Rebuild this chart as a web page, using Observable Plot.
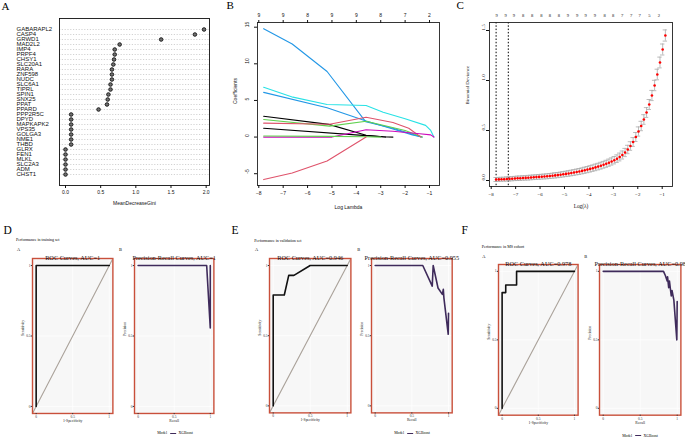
<!DOCTYPE html>
<html><head><meta charset="utf-8">
<script src="https://cdn.jsdelivr.net/npm/d3@7"></script>
<script src="https://cdn.jsdelivr.net/npm/@observablehq/plot@0.6"></script>
<style>
body{margin:0;background:#fff;}
#root{position:relative;width:685px;height:440px;overflow:hidden;background:#fff;}
.p{position:absolute;}
.lbl{position:absolute;white-space:nowrap;line-height:1;color:#000;font-family:"Liberation Serif","Times New Roman",serif;}
</style></head><body><div id="root"></div>
<script>
// ---------- Panel A data ----------
const genes = ["GABARAPL2","CASP4","GRWD1","MAD2L2","IMP4","PRPF4","CHSY1","SLC20A1","RARA","ZNF598","NUDC","SLC6A1","TIPRL","SPIN1","SNX25","PPAT","PPARD","PPP2R5C","DPYD","MAPKAPK2","VPS35","GOLGA3","NME1","THBD","GLRX","FEN1","MLKL","SLC2A3","ADM","CHST1"];
const gini = [1.97,1.84,1.36,0.77,0.70,0.70,0.69,0.68,0.66,0.66,0.66,0.64,0.64,0.61,0.60,0.59,0.47,0.08,0.08,0.08,0.08,0.08,0.08,0.08,0.00,0.00,0.00,0.00,0.00,0.00];
const giniTicks = [0,0.5,1,1.5,2];

// ---------- Panel B data ----------
const bLambdaTicks = [-8,-7,-6,-5,-4,-3,-2,-1];
const bDfTop = [9,9,8,9,9,8,7,2];
const bCoefTicks = [-5,0,5,10,15];
const bPaths = [
  {color:"#2297E6", pts:[[-7.8,14.8],[-6.63,12.7],[-5.2,8.95],[-3.62,2.1],[-2.5,1.2],[-1.8,0.5],[-1.35,0]]},
  {color:"#28E2E5", pts:[[-7.8,6.8],[-6.6,5.45],[-5.2,4.45],[-3.6,4.3],[-2.9,3.4],[-2.0,2.5],[-1.16,1.6],[-0.95,0.9],[-0.82,0]]},
  {color:"#2297E6", pts:[[-7.8,6.1],[-5.2,4.0],[-3.6,2.2],[-2.5,1.1],[-1.7,0.3],[-1.3,0]]},
  {color:"#000000", pts:[[-7.8,2.85],[-5.13,1.73],[-3.6,0.25],[-2.9,0.05],[-2.5,0]]},
  {color:"#61D04F", pts:[[-7.8,2.4],[-5.1,1.5],[-3.6,2.15],[-2.0,0.9],[-1.3,0]]},
  {color:"#DF536B", pts:[[-7.8,1.9],[-5.1,1.75],[-3.6,2.7],[-2.5,2.0],[-1.85,1.2],[-1.35,0]]},
  {color:"#000000", pts:[[-7.8,1.2],[-3.6,0.2],[-2.8,0]]},
  {color:"#CD0BBC", pts:[[-7.8,0],[-5.0,0],[-3.6,1.0],[-2.5,0.8],[-1.4,0.45],[-0.95,0.3],[-0.82,0]]},
  {color:"#61D04F", pts:[[-7.8,0.15],[-5.0,0.1],[-3.6,0.05],[-3.0,0]]},
  {color:"#DF536B", pts:[[-7.8,-5.8],[-6.63,-4.9],[-5.2,-3.27],[-3.6,0]]}
];

// ---------- Panel C data ----------
const cvLogLambda = [-7.80,-7.69,-7.58,-7.47,-7.36,-7.25,-7.14,-7.03,-6.92,-6.81,
 -6.70,-6.59,-6.48,-6.37,-6.26,-6.15,-6.04,-5.93,-5.82,-5.71,
 -5.60,-5.49,-5.38,-5.27,-5.16,-5.05,-4.94,-4.83,-4.72,-4.61,
 -4.50,-4.39,-4.28,-4.17,-4.06,-3.95,-3.84,-3.73,-3.62,-3.51,
 -3.40,-3.29,-3.18,-3.07,-2.96,-2.85,-2.74,-2.63,-2.52,-2.41,
 -2.30,-2.19,-2.08,-1.97,-1.86,-1.75,-1.64,-1.53,-1.42,-1.31,
 -1.20,-1.09,-0.98,-0.87];
const cvDeviance = [0.010,0.011,0.012,0.013,0.015,0.016,0.018,0.020,0.022,0.023,
 0.025,0.026,0.028,0.030,0.032,0.034,0.036,0.038,0.040,0.042,
 0.045,0.048,0.051,0.054,0.058,0.062,0.066,0.070,0.075,0.080,
 0.085,0.090,0.096,0.102,0.109,0.116,0.123,0.131,0.139,0.148,
 0.157,0.167,0.178,0.190,0.203,0.218,0.235,0.255,0.280,0.310,
 0.345,0.385,0.435,0.490,0.545,0.610,0.680,0.760,0.850,0.950,
 1.060,1.180,1.310,1.450];
const cvSE = [0.020,0.020,0.020,0.020,0.021,0.021,0.021,0.021,0.022,0.022,
 0.022,0.022,0.023,0.023,0.023,0.023,0.024,0.024,0.024,0.025,
 0.025,0.025,0.026,0.026,0.026,0.027,0.027,0.028,0.028,0.029,
 0.029,0.030,0.030,0.031,0.031,0.032,0.032,0.033,0.033,0.034,
 0.034,0.035,0.036,0.036,0.037,0.038,0.039,0.040,0.041,0.042,
 0.043,0.044,0.045,0.046,0.047,0.048,0.049,0.050,0.051,0.052,
 0.053,0.054,0.055,0.056];
const cvTopX = [-7.78,-7.41,-7.07,-6.69,-6.32,-5.95,-5.60,-5.23,-4.86,-4.48,-4.13,-3.76,-3.36,-3.01,-2.64,-2.27,-1.92,-1.52,-1.14];
const cvTopDf = [9,9,9,8,8,8,8,8,9,9,9,9,8,8,7,7,7,5,2];
const cvLambdaLines = [-7.8,-7.3];
const cvXTicks = [-8,-7,-6,-5,-4,-3,-2,-1];
const cvYTicks = [0,0.5,1,1.5];

// ---------- Bottom row data ----------
const perfTicks = [0,0.5,1];
const refLine = [-0.05,1.05];
const rocTrain = [[0,0],[0,1],[1,1]];
const prTrain = [[0,1],[0.95,1],[1.0,0.557],[1.0,1.0]];
const rocValid = [[0,0],[0,0.79],[0.15,0.79],[0.21,0.93],[0.28,0.93],[0.5,1],[1,1]];
const prValid = [[0,1],[0.649,1],[0.778,0.853],[0.791,1.0],[0.857,0.84],[0.916,0.794],[0.929,0.83],[0.937,0.77],[0.996,0.51],[1.0,0.66]];
const rocMS = [[0,0],[0,0.845],[0.05,0.845],[0.05,0.9],[0.2,0.9],[0.2,1],[1,1]];
const prMS = [[0,1],[0.815,1],[0.84,0.97],[0.865,0.93],[0.87,0.96],[0.885,0.88],[0.895,0.93],[0.92,0.82],[0.93,0.86],[0.955,0.79],[0.995,0.5],[1.0,0.78]];

// ---------- helpers ----------
const root = document.getElementById("root");
const SERIF = "'Liberation Serif','Times New Roman',serif";
const SANS = "'Liberation Sans',Arial,sans-serif";
function place(svg, left, top){
  const d = document.createElement("div");
  d.className = "p"; d.style.left = left+"px"; d.style.top = top+"px";
  d.appendChild(svg); root.appendChild(d);
}
function label(text, left, cy, size, opts={}){
  const d = document.createElement("div");
  d.className = "lbl";
  d.style.left = left+"px"; d.style.top = (cy - size/2)+"px"; d.style.fontSize = size+"px";
  if (opts.center) d.style.transform = "translateX(-50%)";
  if (opts.family) d.style.fontFamily = opts.family;
  d.innerHTML = text; root.appendChild(d);
}

// ---------- Panel A ----------
const giniData = genes.map((g,i)=>({gene:g, value:gini[i]}));
place(Plot.plot({
  width:230, height:215, marginLeft:59, marginRight:21, marginTop:18, marginBottom:30,
  style:{fontFamily:SANS, fontSize:"5px", background:"transparent", overflow:"visible", color:"#111"},
  x:{domain:[-0.0855,2.0475], label:null},
  y:{type:"point", domain:genes, padding:1.26, label:null},
  marks:[
    Plot.ruleY(genes, {y:d=>d, stroke:"#b5b5b5", strokeWidth:0.6, strokeDasharray:"1.2,1.6"}),
    Plot.frame({stroke:"#111", strokeWidth:0.9}),
    Plot.dot(giniData, {x:"value", y:"gene", r:1.8, fill:"#707070", stroke:"#111", strokeWidth:0.9}),
    Plot.axisX({ticks:giniTicks, tickFormat:d3.format(".1f"), tickSize:3, tickPadding:2, label:null, fontSize:5}),
    Plot.axisY({tickSize:0, textAnchor:"start", dx:-34, label:null, fontSize:6}),
    Plot.text(["MeanDecreaseGini"], {text:d=>d, frameAnchor:"bottom", dy:19, fontSize:5})
  ]
}), 0, 0);

// ---------- Panel B ----------
const bMarks = bPaths.map(p => Plot.line(p.pts, {x:d=>d[0], y:d=>d[1], stroke:p.color, strokeWidth:1.1}));
place(Plot.plot({
  width:230, height:215, marginLeft:32, marginRight:16, marginTop:22, marginBottom:30,
  style:{fontFamily:SANS, fontSize:"5px", background:"transparent", overflow:"visible", color:"#111"},
  x:{domain:[-8.053,-0.59], label:null},
  y:{domain:[-6.61,15.64], label:null},
  marks:[
    ...bMarks,
    Plot.frame({stroke:"#222", strokeWidth:0.9}),
    Plot.axisX({ticks:bLambdaTicks, tickSize:3, tickPadding:2.5, label:null, fontSize:5}),
    Plot.axisX({anchor:"top", ticks:bLambdaTicks, tickFormat:(d,i)=>String(bDfTop[i]), tickSize:3, tickPadding:3, label:null, fontSize:5}),
    Plot.axisY({ticks:bCoefTicks, tickSize:3, tickFormat:()=>"", label:null}),
    Plot.text(bCoefTicks, {y:d=>d, text:d=>String(d), frameAnchor:"left", rotate:-90, dx:-10.3, fontSize:5}),
    Plot.text(["Coefficients"], {text:d=>d, frameAnchor:"left", rotate:-90, dx:-22, fontSize:5}),
    Plot.text(["Log Lambda"], {text:d=>d, frameAnchor:"bottom", dy:23.3, fontSize:5})
  ]
}), 225, 0);

// ---------- Panel C ----------
const cvData = cvLogLambda.map((x,i)=>({x, y:cvDeviance[i], se:cvSE[i]}));
const cvTop = cvTopX.map((x,i)=>({x, df:cvTopDf[i]}));
place(Plot.plot({
  width:230, height:215, marginLeft:34, marginRight:13, marginTop:22, marginBottom:29,
  style:{fontFamily:SERIF, fontSize:"5px", background:"transparent", overflow:"visible", color:"#111"},
  x:{domain:[-8.07,-0.578], label:null},
  y:{domain:[-0.06,1.58], label:null},
  marks:[
    Plot.ruleX(cvLambdaLines, {x:d=>d, stroke:"#000", strokeWidth:1, strokeDasharray:"1.5,1.8"}),
    Plot.ruleX(cvData, {x:"x", y1:d=>d.y-d.se, y2:d=>d.y+d.se, stroke:"#a9a9a9", strokeWidth:0.8}),
    Plot.ruleY(cvData, {y:d=>d.y+d.se, x1:d=>d.x-0.09, x2:d=>d.x+0.09, stroke:"#a9a9a9", strokeWidth:0.8}),
    Plot.ruleY(cvData, {y:d=>d.y-d.se, x1:d=>d.x-0.09, x2:d=>d.x+0.09, stroke:"#a9a9a9", strokeWidth:0.8}),
    Plot.dot(cvData, {x:"x", y:"y", r:1.3, fill:"#ff0000"}),
    Plot.frame({stroke:"#222", strokeWidth:0.9}),
    Plot.axisX({ticks:cvXTicks, tickSize:3, tickPadding:2.5, label:null, fontSize:5}),
    Plot.text(cvTop, {x:"x", text:d=>String(d.df), frameAnchor:"top", dy:-8.7, fontSize:4.6}),
    Plot.axisY({ticks:cvYTicks, tickSize:3, tickFormat:()=>"", label:null}),
    Plot.text(cvYTicks, {y:d=>d, text:d=>d3.format(".1f")(d), frameAnchor:"left", rotate:-90, dx:-6.5, fontSize:5}),
    Plot.text(["Binomial Deviance"], {text:d=>d, frameAnchor:"left", rotate:-90, dx:-22.3, fontSize:5}),
    Plot.text(["Log(\u03BB)"], {text:d=>d, frameAnchor:"bottom", dy:21, fontSize:5.3})
  ]
}), 455, 0);

// ---------- Bottom row ----------
function perfPanel(o){
  const mL=16, mR=4, mT=11, mB=14;
  const svg = Plot.plot({
    width:(o.r-o.l)+mL+mR, height:(o.b-o.t)+mT+mB,
    marginLeft:mL, marginRight:mR, marginTop:mT, marginBottom:mB,
    style:{fontFamily:SERIF, fontSize:"3.5px", background:"transparent", overflow:"visible", color:"#333"},
    x:{domain:[-0.05,1.05], label:null},
    y:{domain:[-0.05,1.05], label:null},
    marks:[
      Plot.frame({fill:"#f7f7f7"}),
      Plot.ruleX(perfTicks, {x:d=>d, stroke:"#fff", strokeWidth:0.7}),
      Plot.ruleY(perfTicks, {y:d=>d, stroke:"#fff", strokeWidth:0.7}),
      o.diag ? Plot.line(refLine, {x:d=>d, y:d=>d, stroke:"#aba39b", strokeWidth:1.1, clip:true}) : null,
      Plot.line(o.curve, {x:d=>d[0], y:d=>d[1], stroke:o.color, strokeWidth:1.6}),
      Plot.frame({stroke:"#c9503b", strokeWidth:1.4}),
      Plot.axisX({ticks:perfTicks, tickSize:1.2, tickPadding:0.8, tickFormat:d=>String(d), label:null, fontSize:3.5}),
      Plot.axisY({ticks:perfTicks, tickSize:1.2, tickPadding:0.8, tickFormat:d=>String(d), label:null, fontSize:3.5}),
      Plot.text([o.xTitle], {text:d=>d, frameAnchor:"bottom", dy:8.4, fontSize:3.8, fill:"#222"}),
      Plot.text([o.yTitle], {text:d=>d, frameAnchor:"left", rotate:-90, dx:-9.5, fontSize:3.8, fill:"#222"}),
      Plot.text([o.title], {text:d=>d, frameAnchor:"top", lineAnchor:"bottom", dy:1.2, fontSize:6.3, fill:"#111"})
    ]
  });
  place(svg, o.l-mL, o.t-mT);
}
const PURPLE = "#3f2b5b";
perfPanel({l:32.3, r:112.7, t:258.3, b:413.3, curve:rocTrain, color:"#111", diag:true, title:"ROC Curves, AUC=1", xTitle:"1-Specificity", yTitle:"Sensitivity"});
perfPanel({l:134.3, r:213.7, t:258.3, b:413.3, curve:prTrain, color:PURPLE, diag:false, title:"Precision-Recall Curves, AUC=1", xTitle:"Recall", yTitle:"Precision"});
perfPanel({l:269.3, r:350.7, t:258.3, b:412.7, curve:rocValid, color:"#111", diag:true, title:"ROC Curves, AUC=0.946", xTitle:"1-Specificity", yTitle:"Sensitivity"});
perfPanel({l:371, r:451.7, t:258.3, b:412.7, curve:prValid, color:PURPLE, diag:false, title:"Precision-Recall Curves, AUC=0.955", xTitle:"Recall", yTitle:"Precision"});
perfPanel({l:497.7, r:577.3, t:264.3, b:415, curve:rocMS, color:"#111", diag:true, title:"ROC Curves, AUC=0.978", xTitle:"1-Specificity", yTitle:"Sensitivity"});
perfPanel({l:599.3, r:680.7, t:264.3, b:415, curve:prMS, color:PURPLE, diag:false, title:"Precision-Recall Curves, AUC=0.98", xTitle:"Recall", yTitle:"Precision"});

// ---------- annotations ----------
label("A", 1.5, 6.3, 11);
label("B", 226.5, 5.8, 11);
label("C", 456.5, 5.8, 11);
label("D", 3.5, 230.5, 11.5);
label("E", 231.5, 231, 11.5);
label("F", 461.5, 231, 11.5);
label("Performance in training set", 16, 240, 4);
label("Performance in validation set", 254.3, 240.7, 4);
label("Performance in MS cohort", 481.7, 247, 4);
label("A", 17, 250, 4.4); label("B", 119, 250, 4.4);
label("A", 255, 250, 4.4); label("B", 357.3, 250, 4.4);
label("A", 482.3, 257.3, 4.4); label("B", 584.3, 257.3, 4.4);
const legendHTML = 'Model <span style="display:inline-block;width:6px;height:0;border-top:1.4px solid '+PURPLE+';vertical-align:middle;margin:0 1.5px 0 2px"></span> XGBoost';
label(legendHTML, 175, 434.3, 3.8, {center:true});
label(legendHTML, 412, 434.3, 3.8, {center:true});
label(legendHTML, 640, 436.7, 3.8, {center:true});
</script></body></html>
